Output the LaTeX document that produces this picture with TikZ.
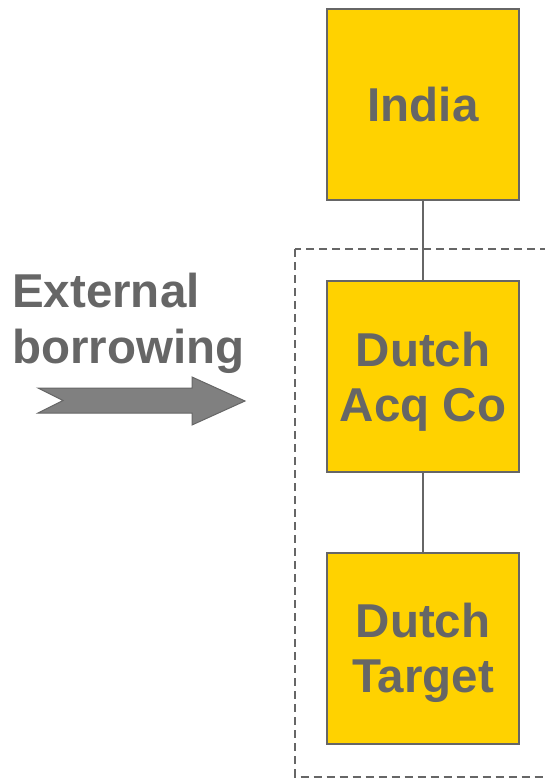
\documentclass[tikz,border=0pt]{standalone}
\usepackage{fontspec}
\setmainfont{Liberation Sans}
\definecolor{gtxt}{HTML}{666666}
\definecolor{ybox}{HTML}{FFD200}
\definecolor{garrow}{HTML}{808080}
\newcommand{\toplift}{\rule{0pt}{44pt}}
\begin{document}
\begin{tikzpicture}[x=1pt,y=-1pt,
  entity/.style={draw=gtxt, fill=ybox, line width=2pt, minimum width=192pt, minimum height=191pt,
    inner sep=0pt, text=gtxt, align=center, font=\bfseries\fontsize{47.5}{55}\selectfont},
  lbl/.style={text=gtxt, inner sep=0pt, font=\bfseries\fontsize{47.5}{56}\selectfont},
  link/.style={draw=gtxt, line width=2pt},
  group/.style={draw=gtxt, line width=2pt, dash pattern=on 8pt off 5pt}]
\useasboundingbox (0,0) rectangle (545,778);
\clip (0,0) rectangle (545,778);
\draw[group] (295,249) rectangle (570,776.5);
\node[entity] (india) at (423,104.5) {India};
\node[entity] (acq) at (423,376.5) {\toplift Dutch\\Acq Co};
\node[entity] (target) at (423,648.5) {\toplift Dutch\\Target};
\draw[link] (india.south) -- (acq.north);
\draw[link] (acq.south) -- (target.north);
\node[lbl, anchor=base west] (ext1) at (12,307) {External};
\node[lbl, anchor=base west] (ext2) at (12,363) {borrowing};
\draw[draw=gtxt, fill=garrow, line width=1pt, line join=miter]
  (38,388) -- (192,388) -- (192,377) -- (245,401) -- (192,425) -- (192,413) -- (38,413) -- (63,400.5) -- cycle;
\end{tikzpicture}
\end{document}
